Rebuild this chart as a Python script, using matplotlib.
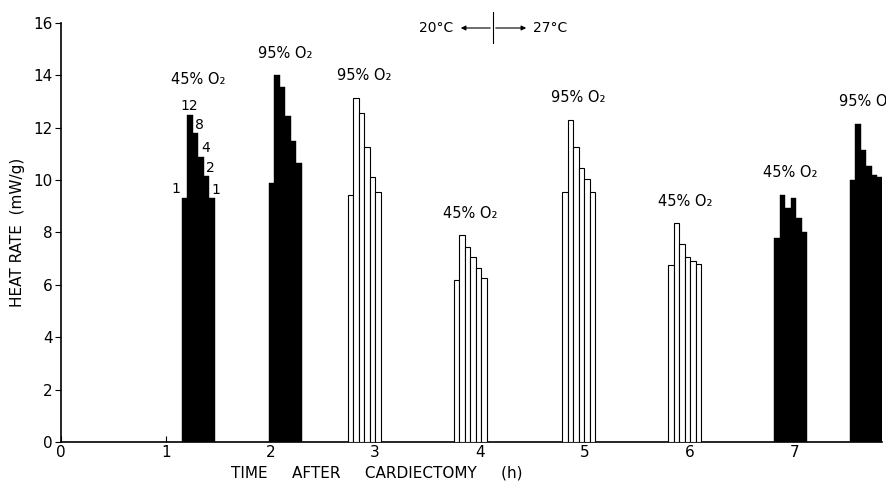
import matplotlib
matplotlib.use("Agg")
import matplotlib.pyplot as plt

plt.rcParams['font.family'] = ['Liberation Sans Narrow', 'DejaVu Sans']

# ---- data ----
group_starts = [1.155, 1.985, 2.74, 3.75, 4.785, 5.80, 6.81, 7.53]   # h
bar_width = 0.0525                                                   # h
group_values = [
    [9.3, 12.5, 11.8, 10.9, 10.15, 9.3],
    [9.9, 14.0, 13.55, 12.45, 11.5, 10.65],
    [9.45, 13.15, 12.55, 11.25, 10.1, 9.55],
    [6.2, 7.9, 7.45, 7.05, 6.65, 6.25],
    [9.55, 12.3, 11.25, 10.45, 10.05, 9.55],
    [6.75, 8.35, 7.55, 7.05, 6.9, 6.8],
    [7.8, 9.45, 8.95, 9.3, 8.55, 8.0],
    [10.0, 12.15, 11.15, 10.55, 10.2, 10.1],
]
group_filled = [True, True, False, False, False, False, True, True]
group_o2 = ["45% O₂", "95% O₂", "95% O₂", "45% O₂", "95% O₂", "45% O₂", "45% O₂", "95% O₂"]
first_group_marks = ["1", "12", "8", "4", "2", "1"]
xticks = [0, 1, 2, 3, 4, 5, 6, 7]
yticks = [0, 2, 4, 6, 8, 10, 12, 14, 16]

fig = plt.figure(figsize=(8.87, 4.84), dpi=100)
ax = fig.add_axes([0.0688, 0.0868, 0.9256, 0.8657])
ax.set_xlim(0, 7.84)
ax.set_ylim(0, 16)

for gi, (start, vals, filled, lab) in enumerate(zip(group_starts, group_values, group_filled, group_o2)):
    xs = [start + i * bar_width for i in range(len(vals))]
    ax.bar(xs, vals, width=bar_width, align='edge',
           color='black' if filled else 'white',
           edgecolor='black', linewidth=0.8 if not filled else 0.3, zorder=3)
    off = 1.05 if gi == 0 else 0.55
    ax.text(start + bar_width * len(vals) / 2, max(vals) + off, lab,
            ha='center', va='bottom', fontsize=10.5, clip_on=False)

# small marks on first group
s0 = group_starts[0]
v0 = group_values[0]
for i, (m, v) in enumerate(zip(first_group_marks, v0)):
    if i == 0:
        ax.annotate(m, xy=(s0, v), xytext=(-1, 2), textcoords='offset points',
                    ha='right', va='bottom', fontsize=10)
    elif i == 1:
        ax.annotate(m, xy=(s0 + bar_width * 1.5, v), xytext=(-1, 1), textcoords='offset points',
                    ha='center', va='bottom', fontsize=10)
    else:
        ax.annotate(m, xy=(s0 + bar_width * (i + 1), v), xytext=(1, 1), textcoords='offset points',
                    ha='center', va='bottom', fontsize=10)

ax.spines['top'].set_visible(False)
ax.spines['right'].set_visible(False)
ax.spines['left'].set_linewidth(1.2)
ax.spines['bottom'].set_linewidth(1.2)
ax.set_xticks(xticks)
ax.set_yticks(yticks)
ax.tick_params(axis='x', direction='in', length=4, labelsize=11, pad=2)
ax.tick_params(axis='y', direction='out', length=4, labelsize=11, pad=2)

ax.set_ylabel("HEAT RATE  (mW/g)", fontsize=11, labelpad=6)
ax.set_xlabel("TIME     AFTER     CARDIECTOMY     (h)", fontsize=11, labelpad=0)
ax.xaxis.set_label_coords(0.385, -0.055)
ax.xaxis.label.set_horizontalalignment('center')

# temperature marker at top
fy = 1 - 28 / 484
fig.text(453 / 887, fy, "20°C", ha='right', va='center', fontsize=10)
fig.text(533 / 887, fy, "27°C", ha='left', va='center', fontsize=10)
fig.add_artist(plt.Line2D([493 / 887, 493 / 887], [1 - 12 / 484, 1 - 43 / 484],
                          color='black', linewidth=0.8, transform=fig.transFigure))
fig.patches.append(matplotlib.patches.FancyArrowPatch(
    (493 / 887, fy), (458 / 887, fy), transform=fig.transFigure,
    arrowstyle='-|>', mutation_scale=7, color='black', linewidth=0.8))
fig.patches.append(matplotlib.patches.FancyArrowPatch(
    (493 / 887, fy), (529 / 887, fy), transform=fig.transFigure,
    arrowstyle='-|>', mutation_scale=7, color='black', linewidth=0.8))

fig.savefig("out.png", dpi=100)
